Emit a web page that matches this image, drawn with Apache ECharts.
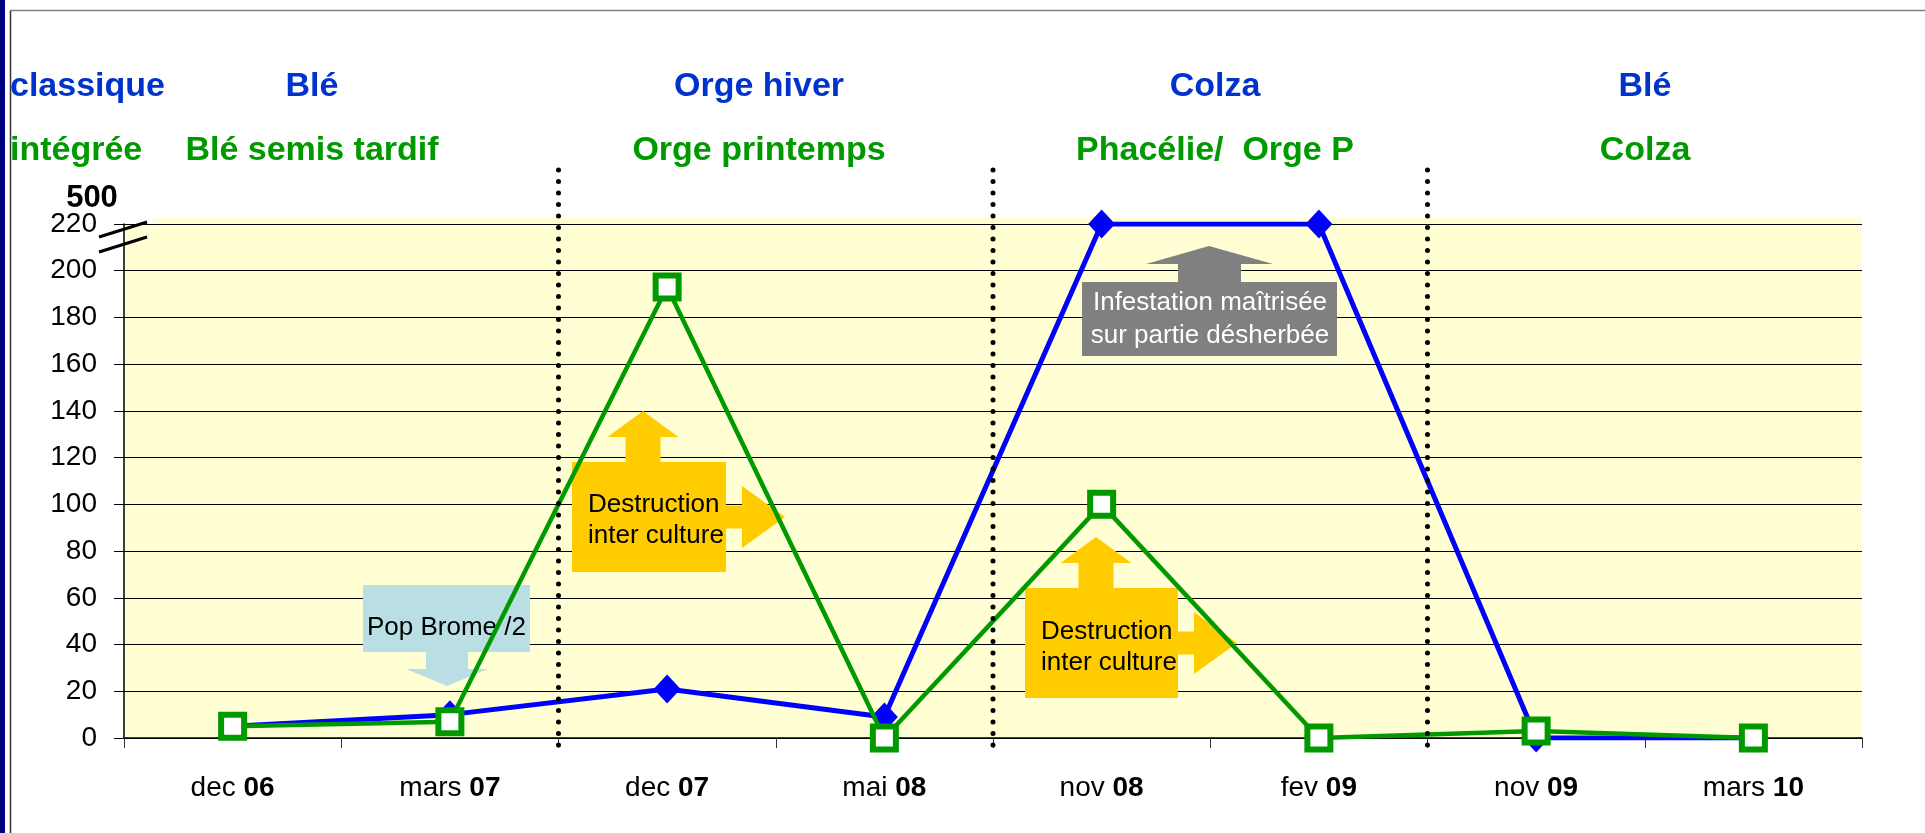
<!DOCTYPE html>
<html>
<head>
<meta charset="utf-8">
<script src="https://cdn.jsdelivr.net/npm/echarts@6/dist/echarts.min.js"></script>
<style>
html,body{margin:0;padding:0;background:#fff;}
#c{width:1925px;height:833px;}
</style>
</head>
<body>
<div id="c"></div>
<script>
// ---- data ----
const categories = ['dec 06','mars 07','dec 07','mai 08','nov 08','fev 09','nov 09','mars 10'];
const classique = [5, 10, 21, 9, 220, 220, 0, 0];   // top points plotted at the axis break (real value 500)
const integree  = [5, 7, 193, 0, 100, 0, 3, 0];
const yMin = 0, yMax = 220, yStep = 20;
const breakLabel = '500';
const cropsClassique = ['Blé', 'Orge hiver', 'Colza', 'Blé'];
const cropsIntegree  = ['Blé semis tardif', 'Orge printemps', 'Phacélie/  Orge P', 'Colza'];
const rowLabels = ['classique', 'intégrée'];

// ---- layout ----
const W = 1925, H = 833;
const G = {left: 124, right: 63, top: 224, bottom: 95};
const plotW = W - G.left - G.right;
const band = plotW / categories.length;
const FONT = '"Liberation Sans", Arial, sans-serif';
const BLUE_T = '#0033CC', GREEN_T = '#009900';

const chart = echarts.init(document.getElementById('c'));

const els = [];
// frame
els.push({type:'rect', shape:{x:0,y:0,width:5,height:H}, style:{fill:'#000080'}, z:10});
els.push({type:'line', shape:{x1:10.5,y1:10.5,x2:W,y2:10.5}, style:{stroke:'#808080', lineWidth:1.5}, z:10});
els.push({type:'line', shape:{x1:10.5,y1:10.5,x2:10.5,y2:H}, style:{stroke:'#333', lineWidth:1.5}, z:10});

// yellow strip just above the top gridline (plot background padding)
els.push({type:'rect', shape:{x:153,y:218,width:W - G.right - 153,height:6}, style:{fill:'#FFFFD3'}, z:0});

// row labels
els.push({type:'text', x:10, y:87, style:{text:rowLabels[0], fill:BLUE_T, font:'bold 34px '+FONT, textAlign:'left', textVerticalAlign:'middle'}, z:10});
els.push({type:'text', x:10, y:151, style:{text:rowLabels[1], fill:GREEN_T, font:'bold 34px '+FONT, textAlign:'left', textVerticalAlign:'middle'}, z:10});
els.push({type:'text', x:92, y:198, style:{text:breakLabel, fill:'#000', font:'bold 31px '+FONT, textAlign:'center', textVerticalAlign:'middle'}, z:10});

// crop headers
const headerX = [312, 759, 1215, 1645];
for (let i = 0; i < 4; i++) {
  els.push({type:'text', x:headerX[i], y:87, style:{text:cropsClassique[i], fill:BLUE_T, font:'bold 34px '+FONT, textAlign:'center', textVerticalAlign:'middle'}, z:10});
  els.push({type:'text', x:headerX[i], y:151, style:{text:cropsIntegree[i], fill:GREEN_T, font:'bold 34px '+FONT, textAlign:'center', textVerticalAlign:'middle'}, z:10});
}

// dotted separators at category boundaries 2,4,6
[2,4,6].forEach(k => {
  const x = G.left + k * band;
  els.push({type:'line', shape:{x1:x,y1:170,x2:x,y2:753}, style:{stroke:'#000', lineWidth:5, lineDash:[0,11.5], lineCap:'round'}, z:10});
});

// axis break marks
els.push({type:'line', shape:{x1:99,y1:237,x2:147,y2:222}, style:{stroke:'#000', lineWidth:3}, z:10});
els.push({type:'line', shape:{x1:99,y1:252,x2:147,y2:237}, style:{stroke:'#000', lineWidth:3}, z:10});

// annotation: Pop Brome /2
const LB = '#B9DFE4';
els.push({type:'rect', shape:{x:363,y:585,width:167,height:67}, style:{fill:LB}, z:1});
els.push({type:'polygon', shape:{points:[[426,652],[468,652],[468,669],[488,669],[447,686],[406,669],[426,669]]}, style:{fill:LB}, z:1});
els.push({type:'text', x:367, y:628, style:{text:'Pop Brome /2', fill:'#000', font:'26px '+FONT, textAlign:'left', textVerticalAlign:'middle'}, z:3});

// annotation: Destruction inter culture
const YL = '#FFCC00';
function destruction(bx, by, bw, bh, ux, tipUp, rtipX, ry, tx, ty) {
  els.push({type:'rect', shape:{x:bx,y:by,width:bw,height:bh}, style:{fill:YL}, z:1});
  const sw = 17.5, hw = 35.5, hb = by - 25;
  els.push({type:'polygon', shape:{points:[[ux-sw,by],[ux-sw,hb],[ux-hw,hb],[ux,tipUp],[ux+hw,hb],[ux+sw,hb],[ux+sw,by]]}, style:{fill:YL}, z:1});
  const rx = bx + bw, hbx = rx + 16;
  els.push({type:'polygon', shape:{points:[[rx,ry-11.5],[hbx,ry-11.5],[hbx,ry-31],[rtipX,ry],[hbx,ry+31],[hbx,ry+11.5],[rx,ry+11.5]]}, style:{fill:YL}, z:1});
  els.push({type:'text', x:tx, y:ty, style:{text:'Destruction\ninter culture', fill:'#000', font:'26px '+FONT, lineHeight:31, textAlign:'left', textVerticalAlign:'middle'}, z:3});
}
destruction(572, 462, 154, 110, 643, 411, 785, 517, 588, 520);
destruction(1025, 588, 153, 110, 1096, 537, 1237, 643, 1041, 647);

// annotation: Infestation maîtrisée
const GR = '#808080';
els.push({type:'rect', shape:{x:1082,y:282,width:255,height:74}, style:{fill:GR}, z:1});
els.push({type:'polygon', shape:{points:[[1178,282],[1178,264],[1146,264],[1209,246],[1273,264],[1241,264],[1241,282]]}, style:{fill:GR}, z:1});
els.push({type:'text', x:1210, y:319, style:{text:'Infestation maîtrisée\nsur partie désherbée', fill:'#fff', font:'26px '+FONT, lineHeight:33, textAlign:'center', textVerticalAlign:'middle'}, z:3});

const option = {
  animation: false,
  backgroundColor: '#fff',
  grid: {left:G.left, right:G.right, top:G.top, bottom:G.bottom, show:true, backgroundColor:'#FFFFD3', borderWidth:0},
  xAxis: {
    type:'category', data:categories, boundaryGap:true,
    axisLine:{show:true, lineStyle:{color:'#000', width:1.5}},
    axisTick:{show:true, length:10, lineStyle:{color:'#333', width:1}},
    axisLabel:{
      margin:36, fontFamily:FONT,
      formatter: v => { const p = v.split(' '); return '{m|' + p[0] + ' }{y|' + p[1] + '}'; },
      rich:{ m:{fontSize:28, color:'#000', fontFamily:FONT}, y:{fontSize:28, fontWeight:'bold', color:'#000', fontFamily:FONT} }
    },
    splitLine:{show:false}
  },
  yAxis: {
    type:'value', min:yMin, max:yMax, interval:yStep,
    axisLine:{show:true, lineStyle:{color:'#000', width:1.5}},
    axisTick:{show:true, length:10, lineStyle:{color:'#000'}},
    axisLabel:{fontSize:28, color:'#000', fontFamily:FONT, margin:27},
    splitLine:{show:true, lineStyle:{color:'#000', width:1}}
  },
  series: [
    {
      name:'classique', type:'line', data:classique, z:2,
      lineStyle:{color:'#0000FF', width:5},
      symbol:'diamond', symbolSize:[27,29],
      itemStyle:{color:'#0000FF'}
    },
    {
      name:'intégrée', type:'line', data:integree, z:3,
      lineStyle:{color:'#009900', width:4.5},
      symbol:'rect', symbolSize:23,
      itemStyle:{color:'#FFFFFF', borderColor:'#009900', borderWidth:6}
    }
  ],
  graphic: {elements: els}
};
chart.setOption(option);
</script>
</body>
</html>
